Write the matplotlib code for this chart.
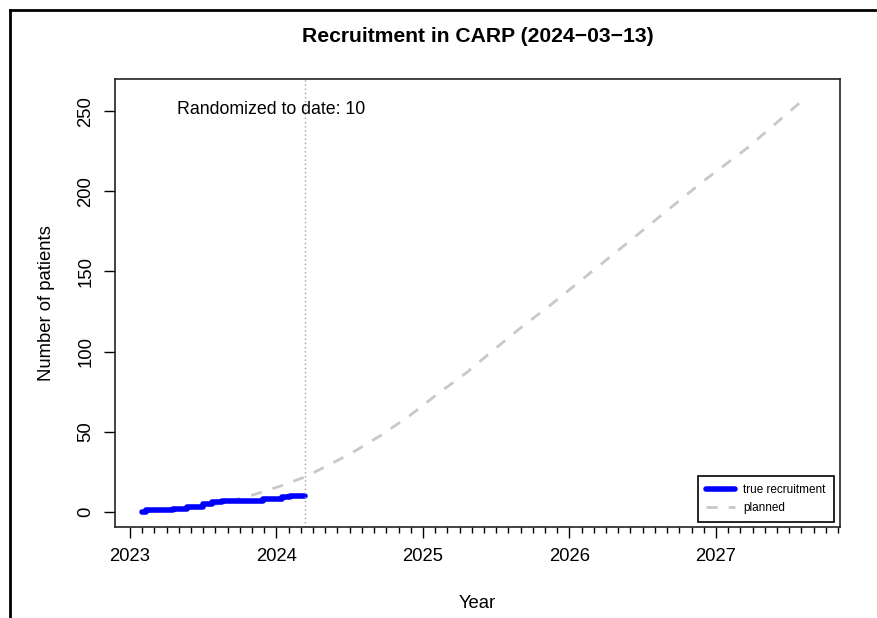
import numpy as np
import matplotlib.pyplot as plt
from matplotlib.lines import Line2D

plt.rcParams['font.family'] = ['Liberation Sans', 'DejaVu Sans']

# observed cumulative recruitment (decimal years)
rec_year = [2023.080, 2023.109, 2023.294, 2023.389, 2023.498, 2023.560,
            2023.628, 2023.908, 2024.038, 2024.092, 2024.198]
rec_n = [0, 1, 2, 3, 5, 6, 7, 8, 9, 10, 10]

# planned recruitment curve
plan_year = [2023.08, 2023.33, 2023.58, 2023.82, 2024.04, 2024.20, 2024.50,
             2024.71, 2024.91, 2025.10, 2025.30, 2025.49, 2025.67, 2025.87,
             2026.16, 2026.35, 2026.63, 2026.91, 2027.21, 2027.57]
plan_n = [0, 1.2, 4.6, 10, 16.5, 22, 36, 47.6, 60, 73.6, 87, 101.6, 115,
          129, 150.4, 164.4, 185.2, 206, 226.7, 255]

today = 2024.197
years = [2023, 2024, 2025, 2026, 2027]
y_ticks = [0, 50, 100, 150, 200, 250]

fig = plt.figure(figsize=(8.78, 6.18), dpi=100)
ax = fig.add_axes([115/878, 1 - 527/618, 725/878, 448/618])

ax.plot(plan_year, plan_n, color='#c8c8c8', lw=2, dashes=(4, 4), label='planned')
ax.step(rec_year, rec_n, where='post', color='#0000ff', lw=4,
        label='true recruitment', solid_capstyle='round')
ax.axvline(today, color='#a0a0a0', lw=1, ls=(0, (1, 2)))

ax.text(0.086, 0.931, 'Randomized to date: 10', transform=ax.transAxes,
        fontsize=12.8, va='center', ha='left')

ax.set_xlim(2022.898, 2027.847)
ax.set_ylim(-9.4, 270)
ax.set_xticks(years)
ax.set_xticklabels([str(y) for y in years])
ax.set_xticks(np.arange(2023 + 1/12, 2027.85, 1/12), minor=True)
ax.set_yticks(y_ticks)
ax.set_yticklabels([str(v) for v in y_ticks], rotation=90, va='center')
ax.tick_params(axis='both', which='major', length=8, width=1, labelsize=13.3, pad=7)
ax.tick_params(axis='x', which='minor', length=4, width=1)
for s in ax.spines.values():
    s.set_linewidth(1.2)
    s.set_color('#222222')

ax.set_xlabel('Year', fontsize=13.3, labelpad=22)
ax.set_ylabel('Number of patients', fontsize=13.3, labelpad=16)
ax.set_title('Recruitment in CARP (2024\u221203\u221213)', fontsize=15.2,
             fontweight='bold', pad=27)

handles, labels = ax.get_legend_handles_labels()
leg = ax.legend(handles[::-1], labels[::-1], loc='lower right',
                bbox_to_anchor=(1 - 6/725, 5/448), borderaxespad=0,
                fontsize=8.5, fancybox=False, edgecolor='black', framealpha=1,
                handlelength=2.4, handletextpad=0.75, borderpad=0.7, labelspacing=0.5)
leg.get_frame().set_linewidth(1.2)

# border of the original screenshot
fig.add_artist(Line2D([10/878, 10/878], [0, 1 - 10/618], color='black', lw=2,
                      transform=fig.transFigure))
fig.add_artist(Line2D([10/878, 1], [1 - 10/618, 1 - 10/618], color='black', lw=2,
                      transform=fig.transFigure))

fig.savefig('out.png', dpi=100)
